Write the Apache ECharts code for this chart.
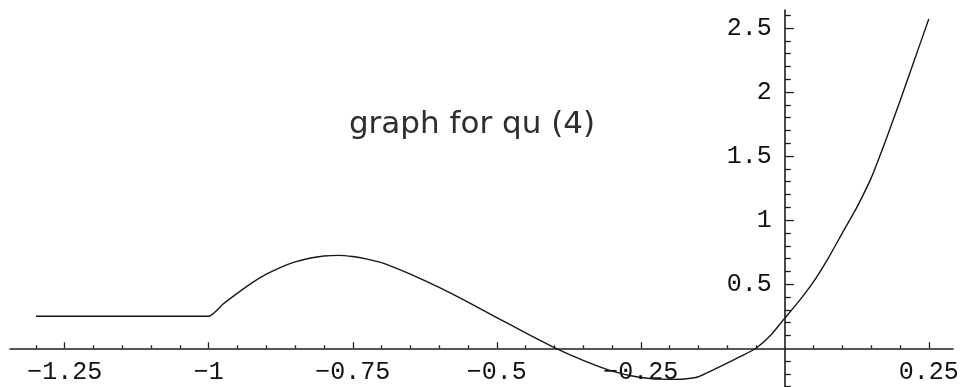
<!DOCTYPE html>
<html>
<head>
<meta charset="utf-8">
<title>graph for qu (4)</title>
<script src="https://cdn.jsdelivr.net/npm/echarts@6/dist/echarts.min.js"></script>
<style>
  html, body { margin: 0; padding: 0; background: #fff; }
  #chart { width: 961px; height: 387px; }
</style>
</head>
<body>
<div id="chart"></div>
<script>
// values
const curveX = [-1.3, -1.0, -0.975, -0.95, -0.925, -0.9, -0.875, -0.85, -0.825, -0.8, -0.775, -0.75,
  -0.725, -0.7, -0.675, -0.65, -0.625, -0.6, -0.55, -0.5, -0.45, -0.4, -0.35, -0.3, -0.25,
  -0.2, -0.175, -0.15, -0.125, -0.1, -0.075, -0.05, -0.025, 0, 0.025, 0.05, 0.075, 0.1,
  0.125, 0.15, 0.175, 0.2, 0.225, 0.25]
const curveY = [0.25, 0.25, 0.345, 0.43, 0.51, 0.578, 0.632, 0.674, 0.703, 0.72, 0.725, 0.716,
  0.696, 0.668, 0.625, 0.578, 0.528, 0.475, 0.36, 0.24, 0.12, 0.005, -0.095, -0.178, -0.228,
  -0.243, -0.24, -0.222, -0.17, -0.115, -0.06, 0.0, 0.1, 0.235, 0.37, 0.52, 0.7, 0.9,
  1.1, 1.33, 1.62, 1.93, 2.25, 2.57]

const xMajor = [-1.25, -1, -0.75, -0.5, -0.25, 0.25]
const xMinor = [-1.3, -1.2, -1.15, -1.1, -1.05, -0.95, -0.9, -0.85, -0.8, -0.7, -0.65, -0.6, -0.55,
  -0.45, -0.4, -0.35, -0.3, -0.2, -0.15, -0.1, -0.05, 0.05, 0.1, 0.15, 0.2]
const yMajor = [0.5, 1, 1.5, 2, 2.5]
const yMinor = [-0.3, -0.2, -0.1, 0.1, 0.2, 0.3, 0.4, 0.6, 0.7, 0.8, 0.9, 1.1, 1.2, 1.3, 1.4,
  1.6, 1.7, 1.8, 1.9, 2.1, 2.2, 2.3, 2.4, 2.6]

const titleText = 'graph for qu (4)'

const GRID = { left: 10, top: 10, width: 943, height: 378 }
const axisColor = '#221c1a'
const labelFont = {
  color: '#141110',
  fontFamily: 'Liberation Mono',
  fontSize: 25
}
const fmt = v => String(v).replace('-', '\u2212')

const chart = echarts.init(document.getElementById('chart'))

function xAx(ticks, len, labels, line) {
  return {
    type: 'value',
    min: -1.345,
    max: 0.292,
    position: 'bottom',
    splitLine: { show: false },
    axisLine: { show: line, onZero: false, lineStyle: { color: axisColor, width: 1.6 } },
    axisTick: { inside: true, length: len, customValues: ticks, lineStyle: { color: axisColor, width: 1.3 } },
    axisLabel: labels ? { show: true, customValues: labels, formatter: fmt, margin: 12, ...labelFont } : { show: false }
  }
}
function yAx(ticks, len, labels, line) {
  return {
    type: 'value',
    min: -0.31,
    max: 2.64,
    position: 'left',
    splitLine: { show: false },
    axisLine: { show: line, onZero: false, lineStyle: { color: axisColor, width: 1.6 } },
    axisTick: { inside: true, length: len, customValues: ticks, lineStyle: { color: axisColor, width: 1.3 } },
    axisLabel: labels ? { show: true, customValues: labels, formatter: fmt, margin: 13, ...labelFont } : { show: false }
  }
}

chart.setOption({
  animation: false,
  backgroundColor: '#ffffff',
  grid: { ...GRID, containLabel: false, outerBoundsMode: 'none' },
  graphic: [{
    type: 'text',
    x: 472,
    y: 125,
    style: {
      text: titleText,
      fill: '#2e2e2e',
      font: '31px "DejaVu Sans"',
      textAlign: 'center',
      textVerticalAlign: 'middle'
    }
  }],
  xAxis: [xAx(xMajor, 6, xMajor, true), xAx(xMinor, 3, null, false)],
  yAxis: [yAx(yMajor, 9, yMajor, true), yAx(yMinor, 6, null, false)],
  series: [
    {
      name: 'qu (4)',
      type: 'line',
      showSymbol: false,
      smooth: 0.2,
      lineStyle: { color: '#1a1614', width: 1.4 },
      data: curveX.map((x, i) => [x, curveY[i]])
    }
  ]
})

// put both axes through the origin, using the library's own scales
const zx = chart.convertToPixel({ xAxisIndex: 0 }, 0)
const zy = chart.convertToPixel({ yAxisIndex: 0 }, 0)
const xOff = zy - (GRID.top + GRID.height)
const yOff = GRID.left - zx
chart.setOption({
  xAxis: [{ offset: xOff }, { offset: xOff }],
  yAxis: [{ offset: yOff }, { offset: yOff }]
})
</script>
</body>
</html>
